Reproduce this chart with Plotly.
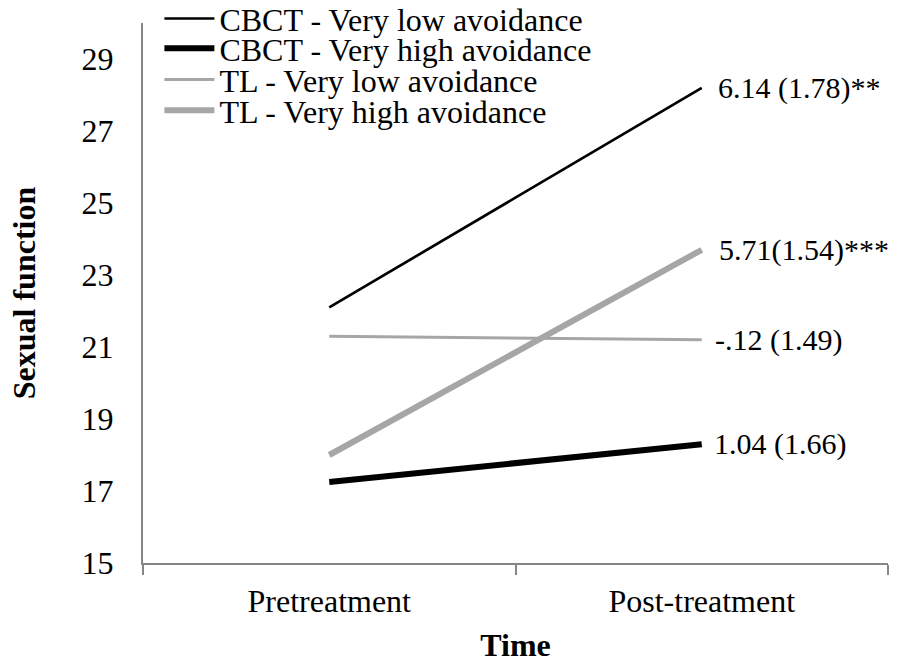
import plotly.graph_objects as go

time_labels = ["Pretreatment", "Post-treatment"]
series_names = [
    "CBCT - Very low avoidance",
    "CBCT - Very high avoidance",
    "TL - Very low avoidance",
    "TL - Very high avoidance",
]
cbct_low = [22.1, 28.2]
cbct_high = [17.25, 18.3]
tl_low = [21.3, 21.2]
tl_high = [18.0, 23.7]
end_labels = ["6.14 (1.78)**", "1.04 (1.66)", "-.12 (1.49)", "5.71(1.54)***"]
y_ticks = [15, 17, 19, 21, 23, 25, 27, 29]

values = [cbct_low, cbct_high, tl_low, tl_high]
colors = ["#000000", "#000000", "#a6a6a6", "#a6a6a6"]
widths = [2.7, 6, 3, 6]
xshifts = [14, 10, 11, 15]
legend_ids = ["legend", "legend2", "legend3", "legend4"]
legend_rows_y = [1.008, 0.953, 0.895, 0.838]

FONT = "Liberation Serif"
fig = go.Figure()
for name, vals, c, w, lg in zip(series_names, values, colors, widths, legend_ids):
    fig.add_trace(go.Scatter(x=time_labels, y=vals, mode="lines", name=name,
                             line=dict(color=c, width=w), legend=lg))

for vals, txt, xs in zip(values, end_labels, xshifts):
    fig.add_annotation(x=time_labels[1], y=vals[1], text=txt, showarrow=False,
                       xanchor="left", yanchor="middle", xshift=xs,
                       font=dict(family=FONT, size=30, color="black"))

legend_layout = {}
for lg, ly in zip(legend_ids, legend_rows_y):
    legend_layout[lg] = dict(x=0.022, y=ly, xanchor="left", yanchor="middle",
                             bgcolor="rgba(0,0,0,0)", borderwidth=0,
                             font=dict(family=FONT, size=32, color="black"),
                             itemwidth=50)

fig.update_layout(
    width=899, height=663,
    margin=dict(l=143, r=11, t=23, b=100, autoexpand=False),
    paper_bgcolor="white", plot_bgcolor="white",
    font=dict(family=FONT, size=32, color="black"),
    showlegend=True,
    **legend_layout,
)
fig.update_xaxes(
    type="category", range=[-0.5, 1.5], tickson="boundaries", ticks="outside",
    ticklen=10, tickwidth=1.5, tickcolor="#868686", showline=True,
    linecolor="#868686", linewidth=2, showgrid=False, zeroline=False,
    tickfont=dict(family=FONT, size=32), ticklabelstandoff=9,
    title=dict(text="<b>Time</b>", font=dict(family=FONT, size=32), standoff=24),
)
fig.update_yaxes(
    range=[15, 30], tickvals=y_ticks, ticks="", showline=True,
    linecolor="#868686", linewidth=2, showgrid=False, zeroline=False,
    tickfont=dict(family=FONT, size=32), ticklabelstandoff=21,
    title=dict(text="<b>Sexual function</b>", font=dict(family=FONT, size=32), standoff=36),
)
fig.write_html("out.html")
